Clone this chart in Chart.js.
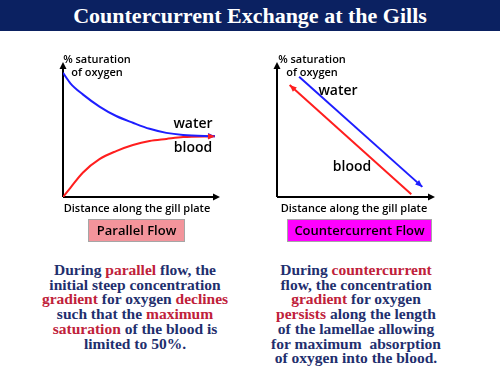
<!DOCTYPE html>
<html>
<head>
<meta charset="utf-8">
<script src="https://cdn.jsdelivr.net/npm/chart.js@4.4.0/dist/chart.umd.min.js"></script>
<style>
  body { margin: 0; width: 500px; height: 375px; background: #fff; position: relative; overflow: hidden; }
  .title { position: absolute; left: 0; top: 0; width: 500px; height: 31px; background: #0b2161;
    color: #fff; font: bold 22px "Liberation Serif", serif; text-align: center; line-height: 31px; }
  .lbl { position: absolute; font-family: "Open Sans", sans-serif; font-weight: 600; color: #000; white-space: nowrap; text-align: center; }
  .ylbl { font-size: 11px; line-height: 13px; }
  .xlbl { font-size: 11px; line-height: 14px; }
  .series { font-size: 14px; line-height: 16px; }
  .box { position: absolute; height: 21px; border: 1px solid #a6a6a6; font: 600 13px "Open Sans", sans-serif;
    color: #000; text-align: center; line-height: 21px; }
  .para { position: absolute; width: 240px; font: bold 15.5px "Liberation Serif", serif; line-height: 14.7px;
    color: #1f2f6e; text-align: center; }
  .para b { color: #c0213a; }
  canvas { position: absolute; }
</style>
</head>
<body>
<div class="title">Countercurrent Exchange at the Gills</div>

<canvas id="parallel" width="177" height="155" style="left:53px;top:52px"></canvas>
<canvas id="counter" width="178" height="155" style="left:267px;top:52px"></canvas>

<div class="lbl ylbl" style="left:47px;top:52px;width:100px">% saturation<br>of oxygen</div>
<div class="lbl ylbl" style="left:262px;top:52px;width:100px">% saturation<br>of oxygen</div>
<div class="lbl series" style="left:163px;top:115px;width:60px">water</div>
<div class="lbl series" style="left:163px;top:139px;width:60px">blood</div>
<div class="lbl series" style="left:308px;top:82px;width:60px">water</div>
<div class="lbl series" style="left:322px;top:158px;width:60px">blood</div>
<div class="lbl xlbl" style="left:57px;top:201px;width:160px">Distance along the gill plate</div>
<div class="lbl xlbl" style="left:274px;top:201px;width:160px">Distance along the gill plate</div>

<div class="box" style="left:88px;top:219px;width:95px;background:#f3949b">Parallel Flow</div>
<div class="box" style="left:287px;top:219px;width:143px;background:#ff00ff">Countercurrent Flow</div>

<div class="para" style="left:15px;top:263px">
During <b>parallel</b> flow, the<br>
initial steep concentration<br>
<b>gradient</b> for oxygen <b>declines</b><br>
such that the <b>maximum</b><br>
<b>saturation</b> of the blood is<br>
limited to 50%.
</div>
<div class="para" style="left:236px;top:263px">
During <b>countercurrent</b><br>
flow, the concentration<br>
<b>gradient</b> for oxygen<br>
<b>persists</b> along the length<br>
of the lamellae allowing<br>
for maximum&nbsp; absorption<br>
of oxygen into the blood.
</div>

<script>
// parallel flow: distance along plate vs % O2 saturation
const parallelDist = [0, 0.5, 1.3, 2.4, 3.5, 4.6, 5.7, 6.8, 7.9, 10];
const parallelWater = [92, 84, 76, 67, 60, 55, 50.5, 47.5, 46, 45];
const parallelBlood = [0, 7, 18, 28, 34, 38.5, 41.5, 43, 44.4, 45];

// countercurrent flow: straight runs, start and end points
const counterWaterDist = [1.4, 9.2];
const counterWaterSat = [89, 7.5];
const counterBloodDist = [0.8, 8.5];
const counterBloodSat = [83, 2];

const WATER = "#1e1eff";
const BLOOD = "#ff1e1e";

function pts(xs, ys) {
  return xs.map((x, i) => ({ x: x, y: ys[i] }));
}

function head(ctx, x0, y0, x1, y1, len, half) {
  const a = Math.atan2(y1 - y0, x1 - x0);
  ctx.beginPath();
  ctx.moveTo(x1, y1);
  ctx.lineTo(x1 - len * Math.cos(a) + half * Math.sin(a), y1 - len * Math.sin(a) - half * Math.cos(a));
  ctx.lineTo(x1 - len * Math.cos(a) - half * Math.sin(a), y1 - len * Math.sin(a) + half * Math.cos(a));
  ctx.closePath();
  ctx.fill();
}

const arrows = {
  id: "arrows",
  beforeDatasetsDraw(chart) {
    const { ctx, chartArea: a } = chart;
    ctx.save();
    ctx.strokeStyle = "#000";
    ctx.fillStyle = "#000";
    ctx.lineWidth = 2;
    ctx.beginPath();
    ctx.moveTo(a.left, a.bottom);
    ctx.lineTo(a.left, a.top + 5);
    ctx.moveTo(a.left, a.bottom);
    ctx.lineTo(a.right - 5, a.bottom);
    ctx.stroke();
    head(ctx, a.left, a.bottom, a.left, a.top, 7, 3.5);
    head(ctx, a.left, a.bottom, a.right, a.bottom, 7, 3.5);
    ctx.restore();
  },
  afterDatasetsDraw(chart) {
    const ctx = chart.ctx;
    ctx.save();
    chart.data.datasets.forEach((ds, i) => {
      const p = chart.getDatasetMeta(i).data;
      const n = p.length;
      ctx.fillStyle = ds.borderColor;
      if (ds.arrowAt === "start") head(ctx, p[1].x, p[1].y, p[0].x, p[0].y, 7, 3);
      else head(ctx, p[n - 2].x, p[n - 2].y, p[n - 1].x, p[n - 1].y, 7, 3);
    });
    ctx.restore();
  }
};

function makeChart(id, datasets, xMax) {
  return new Chart(id, {
    type: "line",
    data: { datasets: datasets },
    options: {
      responsive: false,
      animation: false,
      layout: { padding: 10 },
      plugins: { legend: { display: false }, tooltip: { enabled: false } },
      elements: { point: { radius: 0 } },
      scales: {
        x: { type: "linear", display: false, min: 0, max: xMax },
        y: { display: false, min: 0, max: 100 }
      }
    },
    plugins: [arrows]
  });
}

makeChart("parallel", [
  { label: "water", data: pts(parallelDist, parallelWater), borderColor: WATER, borderWidth: 2,
    cubicInterpolationMode: "monotone", arrowAt: "end" },
  { label: "blood", data: pts(parallelDist, parallelBlood), borderColor: BLOOD, borderWidth: 2,
    cubicInterpolationMode: "monotone", arrowAt: "end" }
], 10.33);

makeChart("counter", [
  { label: "water", data: pts(counterWaterDist, counterWaterSat), borderColor: WATER, borderWidth: 2, arrowAt: "end" },
  { label: "blood", data: pts(counterBloodDist, counterBloodSat), borderColor: BLOOD, borderWidth: 2, arrowAt: "start" }
], 10);
</script>
</body>
</html>
